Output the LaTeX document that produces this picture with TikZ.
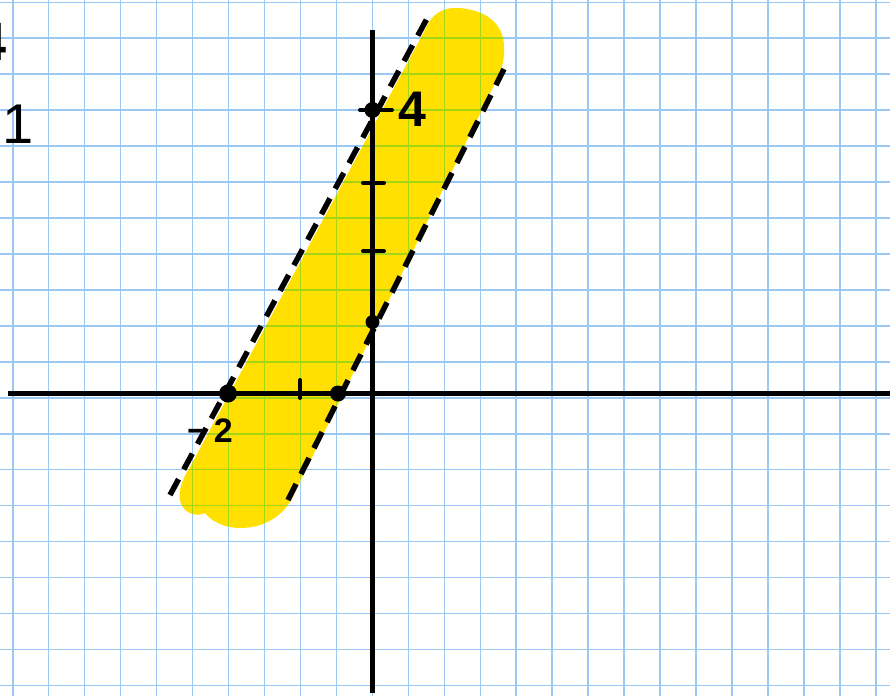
\documentclass[tikz,border=0pt]{standalone}
\usepackage{fontspec}
\setmainfont{Liberation Sans}
\definecolor{gridblue}{RGB}{155,200,242}
\definecolor{gridgreen}{RGB}{165,212,20}
\definecolor{hilite}{RGB}{255,224,0}
\tikzset{
  gridline/.style={gridblue, line width=1.6pt},
  gridover/.style={gridgreen, line width=1.6pt},
  axisline/.style={black, line width=4.5pt},
  tickline/.style={black, line width=4pt, line cap=round},
  bound/.style={black, line width=5.5pt, dash pattern=on 18pt off 11pt},
  hand/.style={inner sep=0pt, font=\bfseries\fontsize{40}{40}\selectfont},
  dotmark/.style={circle, fill=black, inner sep=0pt, minimum size=#1}
}
\begin{document}
\begin{tikzpicture}[x=1pt, y=-1pt]
\useasboundingbox (0,0) rectangle (890,696);
\fill[white] (0,0) rectangle (890,696);
% grid
\foreach \i in {0,...,24} \draw[gridline] ({12.7+35.97*\i},0) -- ({12.7+35.97*\i},696);
\foreach \k in {0,...,19} \draw[gridline] (0,{2.3+35.95*\k}) -- (890,{2.3+35.95*\k});
% highlighted band
\def\bandpath{(425,30) .. controls (432,12) and (445,7) .. (460,8)
  .. controls (480,10) and (498,18) .. (503,38)
  .. controls (506,52) and (503,65) .. (499,75)
  -- (296,490)
  .. controls (288,512) and (268,528) .. (240,528)
  .. controls (225,528) and (212,522) .. (205,513)
  .. controls (195,518) and (182,512) .. (180,500)
  .. controls (178,490) and (183,478) .. (190,467) -- cycle}
\fill[hilite] \bandpath;
\begin{scope}
  \clip \bandpath;
  \foreach \i in {0,...,24} \draw[gridover] ({12.7+35.97*\i},0) -- ({12.7+35.97*\i},696);
  \foreach \k in {0,...,19} \draw[gridover] (0,{2.3+35.95*\k}) -- (890,{2.3+35.95*\k});
\end{scope}
% dashed boundary lines
\coordinate (la) at (170,495);
\coordinate (lb) at (430,13);
\coordinate (ra) at (288,500);
\coordinate (rb) at (505,67);
\draw[bound] (la) -- (lb);
\draw[bound] (ra) -- (rb);
% axes
\coordinate (xl) at (8,393.5);
\coordinate (xr) at (890,393.5);
\coordinate (yt) at (372.5,30);
\coordinate (yb) at (372.5,693);
\draw[axisline] (xl) -- (xr);
\draw[axisline] (yt) -- (yb);
% ticks
\draw[tickline] (360,110) -- (392,110);
\draw[tickline] (363,183) -- (384,183);
\draw[tickline] (363,251) -- (384,251);
\draw[tickline] (300,380) -- (300,398);
% dots
\node[dotmark=16pt] (p4) at (372.5,110) {};
\node[dotmark=14pt] (p1) at (372.5,322) {};
\node[dotmark=18pt] (pm2) at (228,393.5) {};
\node[dotmark=16pt] (pz) at (338,393.5) {};
% labels
\node[hand, font=\bfseries\fontsize{50}{50}\selectfont] (l4) at (412,109) {4};
\node[hand, font=\bfseries\fontsize{34}{34}\selectfont] (lm2) at (210,431) {−\hspace{7pt}2};
\node[hand, font=\fontsize{56}{56}\selectfont] (lone) at (18,124) {1};
\node[hand, font=\bfseries\fontsize{54}{54}\selectfont] (lcut) at (-8,42) {4};
\end{tikzpicture}
\end{document}
